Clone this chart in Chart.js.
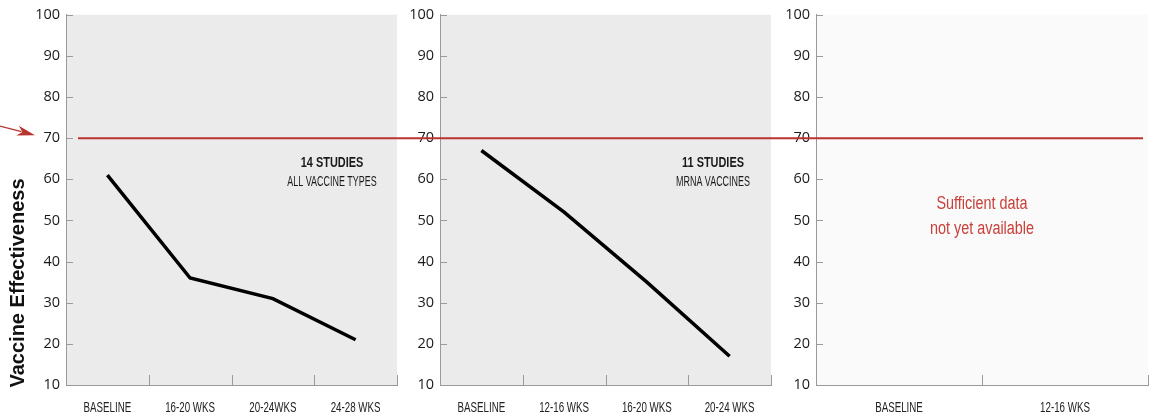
<!DOCTYPE html>
<html><head><meta charset="utf-8">
<script src="https://cdn.jsdelivr.net/npm/chart.js@4"></script>
<style>
html,body{margin:0;padding:0;background:#fff;}
#wrap{position:relative;width:1155px;height:420px;overflow:hidden;}
canvas{position:absolute;top:0;}
</style></head><body>
<div id="wrap">
<canvas id="c1" width="400" height="420" style="left:0"></canvas>
<canvas id="c2" width="375" height="420" style="left:400px"></canvas>
<canvas id="c3" width="380" height="420" style="left:775px"></canvas>
</div>
<script>
// ---- data ----
const categories1 = ['BASELINE', '16-20 WKS', '20-24WKS', '24-28 WKS'];
const values1 = [61, 36, 31, 21];
const categories2 = ['BASELINE', '12-16 WKS', '16-20 WKS', '20-24 WKS'];
const values2 = [67, 52, 35, 17];
const categories3 = ['BASELINE', '12-16 WKS'];
const values3 = [null, null];
const yTickValues = [10, 20, 30, 40, 50, 60, 70, 80, 90, 100];
const threshold = 70;
const yTitle = 'Vaccine Effectiveness';
const note1 = ['14 STUDIES', 'ALL VACCINE TYPES'];
const note2 = ['11 STUDIES', 'MRNA VACCINES'];
const note3 = ['Sufficient data', 'not yet available'];

const SANS = '"Liberation Sans", Arial, sans-serif';
const AXIS = '#9a9a9a';
const RED = '#b8342e';

function squeezeText(ctx, text, x, y, font, sx, color) {
  ctx.save();
  ctx.translate(x, y);
  ctx.scale(sx, 1);
  ctx.font = font;
  ctx.fillStyle = color;
  ctx.textAlign = 'center';
  ctx.textBaseline = 'middle';
  ctx.fillText(text, 0, 0);
  ctx.restore();
}

function panelPlugin(o) {
  return {
    id: 'panelDeco',
    beforeDraw(chart) {
      const {ctx, chartArea: a} = chart;
      ctx.save();
      ctx.fillStyle = o.bg;
      ctx.fillRect(a.left, a.top, a.right - a.left, a.bottom - a.top);
      ctx.restore();
    },
    afterDatasetsDraw(chart) {
      const {ctx, chartArea: a} = chart;
      const xs = chart.scales.x, ys = chart.scales.y;
      ctx.save();
      ctx.strokeStyle = AXIS;
      ctx.lineWidth = 1;
      // inward y ticks
      yTickValues.forEach(v => {
        const y = Math.round(ys.getPixelForValue(v)) + 0.5;
        ctx.beginPath(); ctx.moveTo(a.left, y); ctx.lineTo(a.left + 7, y); ctx.stroke();
      });
      // inward x ticks at category boundaries + condensed category labels
      const labels = xs.getLabels();
      const n = labels.length;
      const w = (xs.getPixelForValue(1) - xs.getPixelForValue(0));
      for (let i = 0; i < n; i++) {
        const x = Math.round(xs.getPixelForValue(i) + w / 2) + 0.5;
        ctx.beginPath(); ctx.moveTo(x, a.bottom); ctx.lineTo(x, a.bottom - 10); ctx.stroke();
        squeezeText(ctx, labels[i], xs.getPixelForValue(i), a.bottom + 23, '15px ' + SANS, 0.65, '#222');
      }
      // threshold line
      const yT = ys.getPixelForValue(threshold);
      ctx.strokeStyle = RED;
      ctx.lineWidth = 2;
      ctx.beginPath();
      ctx.moveTo(o.lineFrom(a, chart), yT);
      ctx.lineTo(o.lineTo(a, chart), yT);
      ctx.stroke();
      if (o.note) o.note(ctx, a, xs, ys);
      if (o.extra) o.extra(ctx, a, xs, ys);
      ctx.restore();
    }
  };
}

function makeChart(id, cats, vals, padR, yWidth, plugin) {
  return new Chart(document.getElementById(id), {
    type: 'line',
    data: {
      labels: cats,
      datasets: [{
        data: vals,
        borderColor: '#000',
        borderWidth: 3.5,
        pointRadius: 0,
        tension: 0,
        fill: false
      }]
    },
    options: {
      responsive: false,
      animation: false,
      events: [],
      layout: {padding: {top: 13, left: 0, right: padR, bottom: 0}},
      plugins: {legend: {display: false}, tooltip: {enabled: false}},
      scales: {
        x: {
          type: 'category',
          offset: true,
          grid: {display: false, drawTicks: false, offset: true},
          border: {display: true, color: AXIS, width: 1},
          ticks: {display: false, autoSkip: false},
          afterFit(s) { s.height = 35; s.paddingLeft = 0; s.paddingRight = 0; }
        },
        y: {
          min: 10, max: 100,
          grid: {display: false, drawTicks: false},
          border: {display: true, color: AXIS, width: 1},
          afterBuildTicks(s) { s.ticks = yTickValues.map(v => ({value: v})); },
          ticks: {font: {family: '"Open Sans", sans-serif', size: 14.5}, color: '#1a1a1a', padding: 6},
          afterFit(s) { s.width = yWidth; }
        }
      }
    },
    plugins: [plugin]
  });
}

function drawNote(lines, dx) {
  return (ctx, a, xs, ys) => {
    const x = a.right - dx;
    squeezeText(ctx, lines[0], x, ys.getPixelForValue(64), 'bold 14px ' + SANS, 0.78, '#1a1a1a');
    squeezeText(ctx, lines[1], x, ys.getPixelForValue(59.4), '14px ' + SANS, 0.64, '#1a1a1a');
  };
}

makeChart('c1', categories1, values1, 3, 66, panelPlugin({
  bg: '#ebebeb',
  lineFrom: (a) => a.left + 12,
  lineTo: (a, c) => c.width,
  note: drawNote(note1, 65),
  extra: (ctx, a, xs, ys) => {
    ctx.save();
    ctx.translate(18, 283);
    ctx.rotate(-Math.PI / 2);
    ctx.textAlign = 'center';
    ctx.textBaseline = 'middle';
    ctx.fillStyle = '#111';
    ctx.font = 'bold 20px ' + SANS;
    ctx.fillText(yTitle, 0, 0);
    ctx.restore();
    // arrow
    const yT = ys.getPixelForValue(threshold);
    const tipX = 35, tipY = yT - 3, sx = 0, sy = yT - 12;
    const ang = Math.atan2(tipY - sy, tipX - sx);
    const c = Math.cos(ang), s = Math.sin(ang);
    ctx.strokeStyle = RED; ctx.fillStyle = RED; ctx.lineWidth = 1.4;
    ctx.beginPath(); ctx.moveTo(sx, sy);
    ctx.lineTo(tipX - 14 * c, tipY - 14 * s); ctx.stroke();
    ctx.beginPath();
    ctx.moveTo(tipX, tipY);
    ctx.lineTo(tipX - 18 * c + 5 * s, tipY - 18 * s - 5 * c);
    ctx.lineTo(tipX - 13 * c, tipY - 13 * s);
    ctx.lineTo(tipX - 18 * c - 5 * s, tipY - 18 * s + 5 * c);
    ctx.closePath(); ctx.fill();
  }
}));

makeChart('c2', categories2, values2, 4, 40, panelPlugin({
  bg: '#ebebeb',
  lineFrom: () => 0,
  lineTo: (a, c) => c.width,
  note: drawNote(note2, 58)
}));

makeChart('c3', categories3, values3, 7, 41, panelPlugin({
  bg: '#fafafa',
  lineFrom: () => 0,
  lineTo: (a) => a.right - 5,
  note: (ctx, a, xs, ys) => {
    const x = (a.left + a.right) / 2;
    squeezeText(ctx, note3[0], x, ys.getPixelForValue(54), '18px ' + SANS, 0.8, '#c9403a');
    squeezeText(ctx, note3[1], x, ys.getPixelForValue(48), '18px ' + SANS, 0.8, '#c9403a');
  }
}));
</script>
</body></html>
